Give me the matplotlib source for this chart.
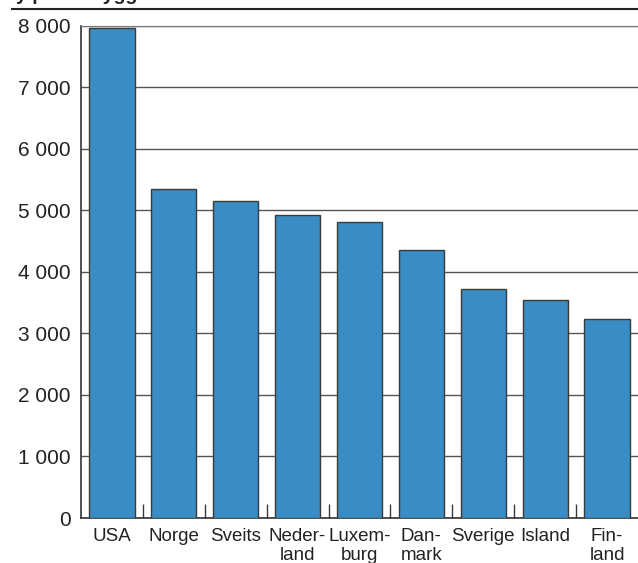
import matplotlib
matplotlib.use("Agg")
import matplotlib.pyplot as plt
from matplotlib.lines import Line2D
import numpy as np

# Health spending per capita, 2009 (PPP USD)
countries = ["USA", "Norge", "Sveits", "Neder-\nland", "Luxem-\nburg",
             "Dan-\nmark", "Sverige", "Island", "Fin-\nland"]
values = [7960, 5352, 5144, 4914, 4808, 4348, 3722, 3538, 3226]
yticks = [0, 1000, 2000, 3000, 4000, 5000, 6000, 7000, 8000]
ytick_labels = ["0", "1 000", "2 000", "3 000", "4 000", "5 000",
                "6 000", "7 000", "8 000"]

BAR = "#3a8cc4"
EDGE = "#3a3a3a"

plt.rcParams["font.family"] = ["Liberation Sans", "DejaVu Sans"]

W, H = 638, 563
fig = plt.figure(figsize=(W / 100, H / 100), dpi=100)
ax = fig.add_axes([81 / W, 45 / H, (W - 81) / W, (518 - 25.5) / H])

x = np.arange(len(values))
ax.set_axisbelow(True)
ax.yaxis.grid(True, color="#555555", lw=1)
ax.bar(x, values, width=0.73, color=BAR, edgecolor=EDGE, linewidth=1, zorder=3)

ax.set_xlim(-0.5, len(values) - 0.5)
ax.set_ylim(0, 8000)
ax.set_yticks(yticks)
ax.set_yticklabels(ytick_labels, fontsize=15, color="#222222")
ax.tick_params(axis="y", length=0, pad=7.5)

ax.set_xticks(x)
ax.set_xticklabels(countries, fontsize=13.5, color="#222222", linespacing=1.2)
ax.tick_params(axis="x", which="major", length=0, pad=7)
ax.set_xticks(x[:-1] + 0.5, minor=True)
ax.tick_params(axis="x", which="minor", direction="in", length=10,
               color=EDGE, width=1)

for side in ("left", "bottom"):
    ax.spines[side].set_color("#333333")
    ax.spines[side].set_linewidth(1.2)
ax.spines["top"].set_color("#777777")
ax.spines["right"].set_visible(False)

# clipped title above the chart (only descenders show) and the rule beneath it
fig.text(2 / W, 1 + 0.5 / H, "By pr. innbygger", fontsize=14, fontweight="bold",
         va="baseline", ha="left", color="#222222")
fig.add_artist(Line2D([12 / W, 1.0], [1 - 9 / H, 1 - 9 / H],
                      transform=fig.transFigure, color="#222222", lw=1.5))

fig.savefig("out.png", dpi=100)
